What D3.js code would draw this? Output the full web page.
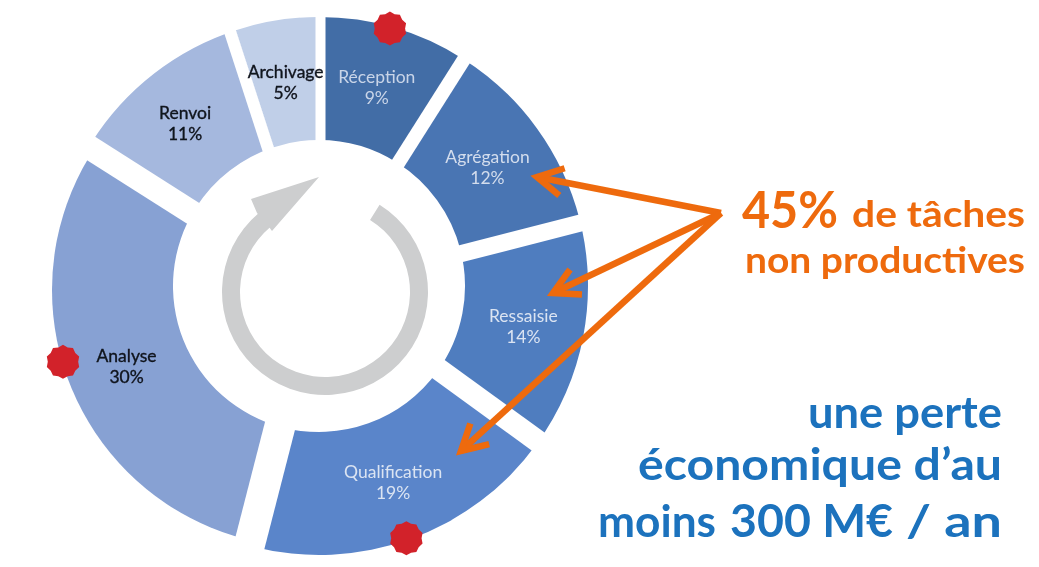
<!DOCTYPE html>
<html>
<head>
<meta charset="utf-8">
<script src="https://cdn.jsdelivr.net/npm/d3@7"></script>
<style>
    html, body { margin: 0; background: #fff; }
    svg { display: block; }
    .slice-label { font-family: Lato, sans-serif; font-size: 17.5px; text-anchor: middle; }
    .note { font-family: Lato, sans-serif; font-weight: 700; }
</style>
</head>
<body>
<svg id="chart" width="1039" height="567"></svg>
<script>
const categories = ['Réception', 'Agrégation', 'Ressaisie', 'Qualification', 'Analyse', 'Renvoi', 'Archivage'];
const shares = [9, 12, 14, 19, 30, 11, 5];
const sliceColors = ['#436da6', '#4a75b3', '#4f7dbf', '#5a85ca', '#87a1d3', '#a5b8de', '#c0cfe8'];
const labelColors = ['#c9d5e8', '#d3dded', '#dbe4f2', '#dbe4f2', '#10131c', '#10131c', '#10131c'];
// where the red badges sit on the outer edge, in degrees clockwise from the top
const badgeAngles = [15.4, 160.9, 253.5];
const arrowTargets = [[537, 177], [553, 293], [461, 451]];

// the white gaps are not even in the original, so each one is set by hand
const gapWidths = [14, 17, 22, 31, 24, 12, 10];
const gapShifts = [1, 4, -3, 3, -6, -6, 1.5];
const labelNudges = [[0, 0], [1, 3], [1, 1], [4, 1], [0, 4], [-7, 1], [-1, 0]];

const svg = d3.select('#chart');
const defs = svg.append('defs');
defs.append('filter').attr('id', 'soft')
    .append('feGaussianBlur').attr('stdDeviation', 0.55);
// the Analyse slice is a bit flatter than the others in the source image
defs.append('clipPath').attr('id', 'analyse-edge')
    .append('circle').attr('cx', -10).attr('cy', 4).attr('r', 257);
const root = svg.append('g').attr('filter', 'url(#soft)');

const cx = 319, cy = 286, outerR = 269, innerR = 146;

const pie = d3.pie().sort(null).value(d => d);
const arc = d3.arc().innerRadius(innerR).outerRadius(outerR);
const labelArc = d3.arc().innerRadius(207).outerRadius(207);
const arcs = pie(shares);

const ring = root.append('g').attr('transform', `translate(${cx},${cy})`);

ring.selectAll('path.slice')
    .data(arcs)
    .enter()
    .append('path')
    .attr('class', 'slice')
    .attr('fill', (d, i) => sliceColors[i])
    .attr('clip-path', (d, i) => categories[i] === 'Analyse' ? 'url(#analyse-edge)' : null)
    .attr('d', arc);

// gaps sit on the end angle of each slice
ring.selectAll('line')
    .data(arcs)
    .enter()
    .append('line')
    .attr('stroke', '#fff')
    .attr('stroke-width', (d, i) => gapWidths[i])
    .attr('x1', (d, i) => gapShifts[i])
    .attr('x2', (d, i) => gapShifts[i])
    .attr('y1', -innerR + 12)
    .attr('y2', -outerR - 12)
    .attr('transform', d => `rotate(${d.endAngle * 180 / Math.PI})`);

const labels = ring.selectAll('text')
    .data(arcs)
    .enter()
    .append('text')
    .attr('class', 'slice-label')
    .attr('fill', (d, i) => labelColors[i])
    .attr('stroke', (d, i) => i >= 4 ? labelColors[i] : 'none')
    .attr('stroke-width', 0.35)
    .attr('transform', (d, i) => {
        const [x, y] = labelArc.centroid(d);
        return `translate(${x + labelNudges[i][0]},${y + labelNudges[i][1]})`;
    });
labels.append('tspan').attr('x', 0).attr('y', -4).text((d, i) => categories[i]);
labels.append('tspan').attr('x', 0).attr('y', 17).text(d => d.value + '%');

// red scalloped badges
const badgePoints = d3.range(0, 20).map(i => [i * Math.PI / 10, i % 2 ? 15.2 : 17]);
const badgeLine = d3.lineRadial().curve(d3.curveLinearClosed);
ring.selectAll('path.badge')
    .data(badgeAngles)
    .enter()
    .append('path')
    .attr('class', 'badge')
    .attr('fill', '#d2232a')
    .attr('d', badgeLine(badgePoints))
    .attr('transform', d => {
        const a = d * Math.PI / 180;
        return `translate(${267 * Math.sin(a)},${-267 * Math.cos(a)})`;
    });

// grey cycle arrow in the hole
const cycle = root.append('g').attr('transform', 'translate(325,292)');
cycle.append('path')
    .attr('fill', '#cdcecf')
    .attr('d', d3.arc().innerRadius(85).outerRadius(103)
        .startAngle(32 * Math.PI / 180).endAngle(320 * Math.PI / 180)());
root.append('path')
    .attr('fill', '#cdcecf')
    .attr('d', d3.line()([[319, 177], [251, 199], [257, 213], [269, 227], [272, 231]]));

// orange arrows
const orange = '#ee6a0b';
const hub = [721, 213];
const arrows = root.append('g')
    .attr('fill', 'none')
    .attr('stroke', orange)
    .attr('stroke-width', 6.5);
arrowTargets.forEach(t => {
    arrows.append('line')
        .attr('x1', hub[0]).attr('y1', hub[1])
        .attr('x2', t[0]).attr('y2', t[1]);
    const a = Math.atan2(hub[1] - t[1], hub[0] - t[0]);
    const head = [-0.5, 0, 0.5].map((da, i) => i === 1
        ? t
        : [t[0] + 29 * Math.cos(a + da), t[1] + 29 * Math.sin(a + da)]);
    arrows.append('path').attr('d', d3.line()(head));
});

// text notes, stretched to the width of the wider face in the original
function note(x, y, width, size, color, text) {
    root.append('text')
        .attr('class', 'note')
        .attr('x', x).attr('y', y)
        .attr('font-size', size)
        .attr('fill', color)
        .attr('textLength', width)
        .attr('lengthAdjust', 'spacingAndGlyphs')
        .text(text);
}
note(742, 228, 96, 51, orange, '45%');
note(852, 227, 173, 36, orange, 'de tâches');
note(745, 273, 280, 36, orange, 'non productives');
const blue = '#1a72bd';
note(808, 428, 194, 43, blue, 'une perte');
note(638, 480, 364, 43, blue, 'économique d’au');
note(598, 537, 118, 43, blue, 'moins');
note(730, 537, 163, 46, blue, '300 M€');
note(906, 537, 96, 43, blue, '/ an');
</script>
</body>
</html>
